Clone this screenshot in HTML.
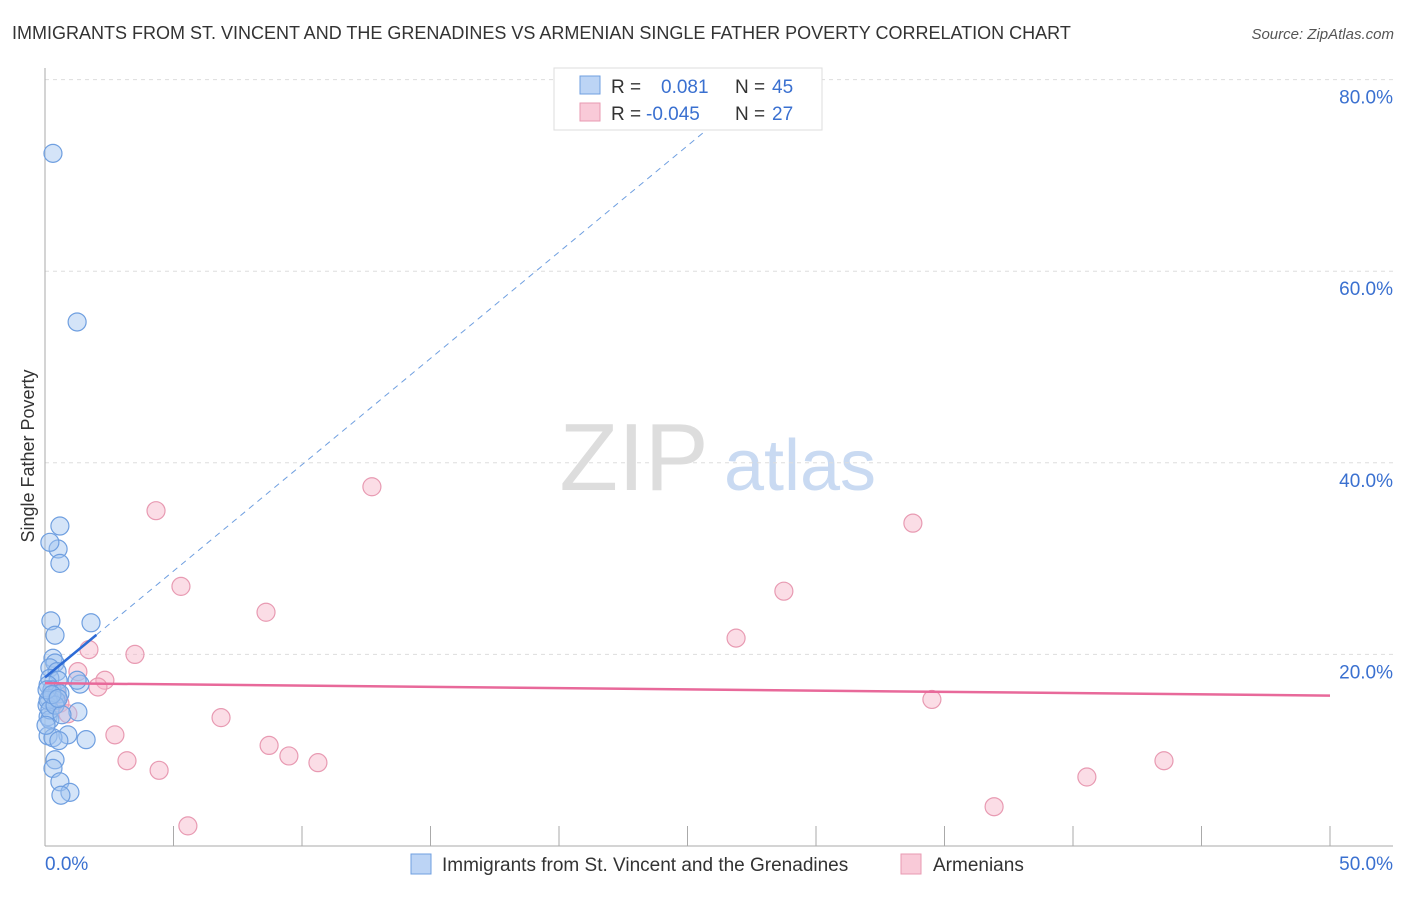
<!DOCTYPE html><html><head><meta charset="utf-8"><style>
body{margin:0;background:#fff;font-family:"Liberation Sans",sans-serif}
svg text{font-family:"Liberation Sans",sans-serif}
</style></head><body>
<svg width="1406" height="892">
<text x="12" y="39" font-size="18" fill="#333">IMMIGRANTS FROM ST. VINCENT AND THE GRENADINES VS ARMENIAN SINGLE FATHER POVERTY CORRELATION CHART</text>
<text x="1394" y="39" font-size="15" fill="#555" text-anchor="end" font-style="italic">Source: ZipAtlas.com</text>
<text x="634" y="490" font-size="96" fill="#ddd" text-anchor="middle" font-family="Liberation Serif">ZIP</text>
<text x="800" y="490" font-size="72" fill="#c9daf2" text-anchor="middle">atlas</text>
<g id="grid"></g><g id="axes"></g><g id="marks"></g>
<text transform="translate(34,456) rotate(-90)" font-size="18" fill="#333" text-anchor="middle">Single Father Poverty</text>
<g>
<rect x="554" y="68" width="268" height="62" fill="#fff" stroke="#ddd"/>
<rect x="580" y="76" width="20" height="18" fill="#bcd4f5" stroke="#6f9fe0"/>
<text x="611" y="93" font-size="19" fill="#333">R =</text><text x="661" y="93" font-size="19" fill="#3a70d0">0.081</text>
<text x="735" y="93" font-size="19" fill="#333">N =</text><text x="772" y="93" font-size="19" fill="#3a70d0">45</text>
<rect x="580" y="103" width="20" height="18" fill="#f9cad8" stroke="#e89ab2"/>
<text x="611" y="120" font-size="19" fill="#333">R =</text><text x="646" y="120" font-size="19" fill="#3a70d0">-0.045</text>
<text x="735" y="120" font-size="19" fill="#333">N =</text><text x="772" y="120" font-size="19" fill="#3a70d0">27</text>
</g>
<g>
<rect x="411" y="854" width="20" height="20" fill="#bcd4f5" stroke="#6f9fe0"/>
<text x="442" y="871" font-size="19" fill="#333">Immigrants from St. Vincent and the Grenadines</text>
<rect x="901" y="854" width="20" height="20" fill="#f9cad8" stroke="#e89ab2"/>
<text x="933" y="871" font-size="19" fill="#333">Armenians</text>
</g>
</svg>
<script>
const blueX=[0.31,1.25,0.58,0.51,0.58,0.19,0.23,0.39,1.79,0.31,0.39,0.19,0.47,0.19,0.51,1.36,1.25,0.12,0.27,0.47,0.58,0.16,0.43,0.08,1.28,0.12,0.19,0.89,0.12,0.31,0.54,1.60,0.39,0.31,0.58,0.97,0.62,0.12,0.19,0.39,0.08,0.27,0.04,0.66,0.51];
const blueY=[72.3,54.7,33.4,31.0,29.5,31.7,23.5,22.0,23.3,19.6,19.1,18.6,18.2,17.5,17.3,16.9,17.3,16.8,16.3,16.1,15.9,15.4,15.2,14.7,14.0,13.5,13.2,11.6,11.5,11.3,11.0,11.1,9.0,8.1,6.7,5.6,5.3,15.2,14.2,14.7,16.3,15.8,12.6,13.7,15.4];
const pinkX=[4.32,12.72,33.77,5.29,28.75,8.60,26.89,1.71,3.50,1.28,2.33,2.06,0.47,0.58,0.89,6.85,34.51,2.72,8.72,9.49,3.19,4.44,10.62,40.54,43.54,36.93,5.56];
const pinkY=[35.0,37.5,33.7,27.1,26.6,24.4,21.7,20.5,20.0,18.2,17.3,16.6,15.8,14.9,13.8,13.4,15.3,11.6,10.5,9.4,8.9,7.9,8.7,7.2,8.9,4.1,2.1];
const blueTrend=[17.6,2.22];const pinkTrend=[17.0,15.7];
const yTicks=[20,40,60,80];const xTickLabels=["0.0%","50.0%"];
const NS="http://www.w3.org/2000/svg";
const sx=v=>45+v/50*1285, sy=v=>846-v/20*191.6;
function mk(t,a,p){const e=document.createElementNS(NS,t);for(const k in a)e.setAttribute(k,a[k]);p.appendChild(e);return e;}
const grid=document.getElementById('grid'),axes=document.getElementById('axes'),marks=document.getElementById('marks');
yTicks.forEach(t=>{const l=mk('line',{x1:45,x2:1393,y1:sy(t),y2:sy(t),stroke:'#ddd','stroke-dasharray':'4,4'},grid);


const tx=mk('text',{x:1393,y:sy(t)+24,'font-size':19,fill:'#3a70d0','text-anchor':'end'},axes);tx.textContent=t.toFixed(1)+'%';

});
let a=mk('line',{x1:45,x2:45,y1:68,y2:846,stroke:'#aaa'},axes);


a=mk('line',{x1:45,x2:1393,y1:846,y2:846,stroke:'#aaa'},axes);


for(let i=1;i<=10;i++){const x=sx(i*5);const t=mk('line',{x1:x,x2:x,y1:826,y2:846,stroke:'#aaa'},axes);

}
let tl=mk('text',{x:45,y:870,'font-size':19,fill:'#3a70d0'},axes);tl.textContent=xTickLabels[0];


tl=mk('text',{x:1393,y:870,'font-size':19,fill:'#3a70d0','text-anchor':'end'},axes);tl.textContent=xTickLabels[1];


pinkX.forEach((x,i)=>{const c=mk('circle',{cx:sx(x),cy:sy(pinkY[i]),r:9,fill:'rgba(247,180,200,0.45)',stroke:'#e89ab2','stroke-width':1.2},marks);

});
blueX.forEach((x,i)=>{const c=mk('circle',{cx:sx(x),cy:sy(blueY[i]),r:9,fill:'rgba(160,195,240,0.45)',stroke:'#6f9fe0','stroke-width':1.2},marks);

});
const bx2=(80-blueTrend[0])/blueTrend[1];
let l=mk('line',{x1:sx(2),y1:sy(blueTrend[0]+2*blueTrend[1]),x2:sx(bx2),y2:sy(80),stroke:'#6f9fe0','stroke-dasharray':'6,5','stroke-width':1},marks);


l=mk('line',{x1:sx(0),y1:sy(blueTrend[0]),x2:sx(2),y2:sy(blueTrend[0]+2*blueTrend[1]),stroke:'#2d6bd6','stroke-width':2.5},marks);


l=mk('line',{x1:sx(0),y1:sy(pinkTrend[0]),x2:sx(50),y2:sy(pinkTrend[1]),stroke:'#e8699a','stroke-width':2.5},marks);


</script>
</body></html>
